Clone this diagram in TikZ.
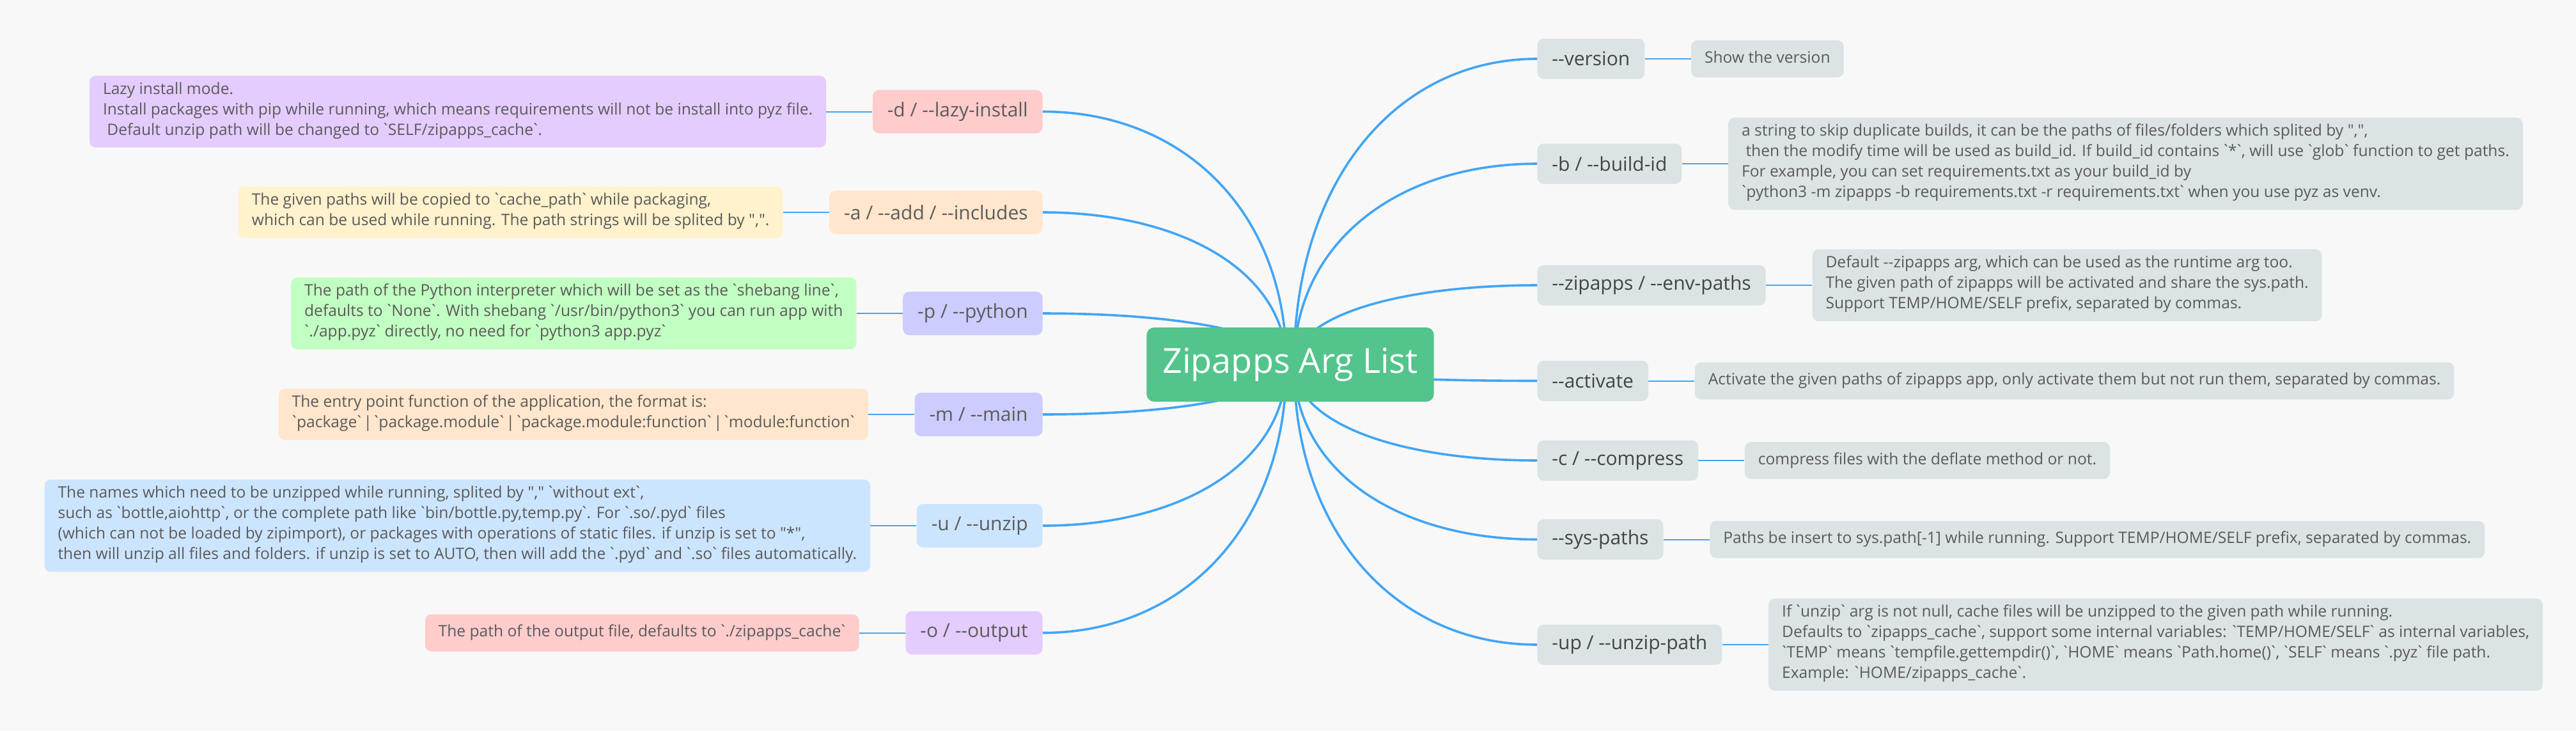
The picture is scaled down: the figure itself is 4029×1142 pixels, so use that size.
\documentclass[tikz,border=0pt]{standalone}
\usepackage{fontspec}
\usepackage{tikz}
\usetikzlibrary{positioning,calc}
\newfontfamily\mapfont{Open Sans}
% narrower backtick and bar, as in the screenshot font
\newcommand{\gravetick}{\kern-0.14em`\kern-0.14em}
\newcommand{\barsep}{\kern-0.14em|\kern-0.14em}

\definecolor{bgmap}{HTML}{F8F8F8}
\definecolor{rootgreen}{HTML}{52C48C}
\definecolor{linkblue}{HTML}{42A5F5}
\definecolor{argtext}{HTML}{5C5C5C}
\definecolor{argdark}{HTML}{3F4548}
\definecolor{notetext}{HTML}{5A5A5A}
\definecolor{notegray}{HTML}{DCE3E5}
\definecolor{pinkbox}{HTML}{FFCCCC}
\definecolor{lilacbox}{HTML}{E5CCFF}
\definecolor{peachbox}{HTML}{FFE6CC}
\definecolor{creambox}{HTML}{FFF2CC}
\definecolor{mintbox}{HTML}{C2FFC2}
\definecolor{periwinkle}{HTML}{CCCCFF}
\definecolor{skybox}{HTML}{CCE5FF}

\tikzset{
	rootbox/.style={fill=rootgreen, text=white, rounded corners=6pt, inner xsep=12.5pt, minimum height=58pt, font=\mapfont\fontsize{27}{32}\selectfont},
	leftarg/.style={anchor=east, rounded corners=5pt, inner xsep=11.5pt, minimum height=34pt, text=argtext, font=\mapfont\fontsize{15}{18}\selectfont},
	rightarg/.style={anchor=west, fill=notegray, rounded corners=5pt, inner xsep=11.5pt, minimum height=31.5pt, text=argdark, font=\mapfont\fontsize{15}{18}\selectfont},
	note/.style={rounded corners=5pt, align=left, inner xsep=10.5pt, inner ysep=5pt, minimum height=29pt, text=notetext, font=\mapfont\fontsize{12.3}{16}\selectfont, execute at begin node=\strut, execute at end node=\strut},
	branch/.style={draw=linkblue, line width=1.8pt, to path={.. controls ($(\tikztostart)!0.6!(\tikztostart |- \tikztotarget)$) and ($(\tikztostart |- \tikztotarget)!0.42!(\tikztotarget)$) .. (\tikztotarget)}},
	twig/.style={draw=linkblue, line width=1pt}
}

\begin{document}
\begin{tikzpicture}[x=0.5pt,y=0.5pt,yscale=-1]
	%background, same size as the screenshot
	\fill [bgmap] (0,0) rectangle (4029,1142);
	\useasboundingbox (0,0) rectangle (4029,1142);
	
	% Text Node: left arguments
	\node [leftarg, fill=pinkbox] (lazy) at (1631,174.5) {-d / --lazy-install};
	\node [leftarg, fill=peachbox] (add) at (1631,332) {-a / --add / --includes};
	\node [leftarg, fill=periwinkle] (python) at (1631,490) {-p / --python};
	\node [leftarg, fill=periwinkle] (main) at (1631,648) {-m / --main};
	\node [leftarg, fill=skybox] (unzip) at (1631,822) {-u / --unzip};
	\node [leftarg, fill=lilacbox] (output) at (1631,989.5) {-o / --output};
	
	% Text Node: right arguments
	\node [rightarg] (version) at (2404,92) {--version};
	\node [rightarg] (buildid) at (2404,256) {-b / --build-id};
	\node [rightarg] (envpaths) at (2404,446) {--zipapps / --env-paths};
	\node [rightarg] (activate) at (2404,595.5) {--activate};
	\node [rightarg] (compress) at (2404,720) {-c / --compress};
	\node [rightarg] (syspaths) at (2404,843.5) {--sys-paths};
	\node [rightarg] (unzippath) at (2404,1008) {-up / --unzip-path};
	
	% Text Node: notes on the left
	\node [note, fill=lilacbox, left=36pt of lazy] (lazynote) {Lazy install mode.\\Install packages with pip while running, which means requirements will not be install into pyz file.\\\ Default unzip path will be changed to \gravetick SELF/zipapps\_cache\gravetick.};
	\node [note, fill=creambox, left=36pt of add] (addnote) {The given paths will be copied to \gravetick cache\_path\gravetick\ while packaging,\\which can be used while running. The path strings will be splited by ",".};
	\node [note, fill=mintbox, left=36pt of python] (pythonnote) {The path of the Python interpreter which will be set as the \gravetick shebang line\gravetick,\\defaults to \gravetick None\gravetick. With shebang \gravetick/usr/bin/python3\gravetick\ you can run app with\\\gravetick./app.pyz\gravetick\ directly, no need for \gravetick python3 app.pyz\gravetick};
	\node [note, fill=peachbox, left=36pt of main] (mainnote) {The entry point function of the application, the format is:\\\gravetick package\gravetick\ \barsep\ \gravetick package.module\gravetick\ \barsep\ \gravetick package.module:function\gravetick\ \barsep\ \gravetick module:function\gravetick};
	\node [note, fill=skybox, left=36pt of unzip] (unzipnote) {The names which need to be unzipped while running, splited by "," \gravetick without ext\gravetick,\\such as \gravetick bottle,aiohttp\gravetick, or the complete path like \gravetick bin/bottle.py,temp.py\gravetick. For \gravetick.so/.pyd\gravetick\ files\\(which can not be loaded by zipimport), or packages with operations of static files. if unzip is set to "*",\\then will unzip all files and folders. if unzip is set to AUTO, then will add the \gravetick.pyd\gravetick\ and \gravetick.so\gravetick\ files automatically.};
	\node [note, fill=pinkbox, left=36pt of output] (outputnote) {The path of the output file, defaults to \gravetick./zipapps\_cache\gravetick};
	
	% Text Node: notes on the right
	\node [note, fill=notegray, right=36pt of version] (versionnote) {Show the version};
	\node [note, fill=notegray, right=36pt of buildid] (buildidnote) {a string to skip duplicate builds, it can be the paths of files/folders which splited by ",",\\\ then the modify time will be used as build\_id. If build\_id contains \gravetick*\gravetick, will use \gravetick glob\gravetick\ function to get paths.\\For example, you can set requirements.txt as your build\_id by\\\gravetick python3 -m zipapps -b requirements.txt -r requirements.txt\gravetick\ when you use pyz as venv.};
	\node [note, fill=notegray, right=36pt of envpaths] (envpathsnote) {Default --zipapps arg, which can be used as the runtime arg too.\\The given path of zipapps will be activated and share the sys.path.\\Support TEMP/HOME/SELF prefix, separated by commas.};
	\node [note, fill=notegray, right=36pt of activate] (activatenote) {Activate the given paths of zipapps app, only activate them but not run them, separated by commas.};
	\node [note, fill=notegray, right=36pt of compress] (compressnote) {compress files with the deflate method or not.};
	\node [note, fill=notegray, right=36pt of syspaths] (syspathsnote) {Paths be insert to sys.path[-1] while running. Support TEMP/HOME/SELF prefix, separated by commas.};
	\node [note, fill=notegray, right=36pt of unzippath] (unzippathnote) {If \gravetick unzip\gravetick\ arg is not null, cache files will be unzipped to the given path while running.\\Defaults to \gravetick zipapps\_cache\gravetick, support some internal variables: \gravetick TEMP/HOME/SELF\gravetick\ as internal variables,\\\gravetick TEMP\gravetick\ means \gravetick tempfile.gettempdir()\gravetick, \gravetick HOME\gravetick\ means \gravetick Path.home()\gravetick, \gravetick SELF\gravetick\ means \gravetick.pyz\gravetick\ file path.\\Example: \gravetick HOME/zipapps\_cache\gravetick.};
	
	%Straight Lines: argument to note
	\draw [twig] (lazy.west) -- (lazynote.east);
	\draw [twig] (add.west) -- (addnote.east);
	\draw [twig] (python.west) -- (pythonnote.east);
	\draw [twig] (main.west) -- (mainnote.east);
	\draw [twig] (unzip.west) -- (unzipnote.east);
	\draw [twig] (output.west) -- (outputnote.east);
	\draw [twig] (version.east) -- (versionnote.west);
	\draw [twig] (buildid.east) -- (buildidnote.west);
	\draw [twig] (envpaths.east) -- (envpathsnote.west);
	\draw [twig] (activate.east) -- (activatenote.west);
	\draw [twig] (compress.east) -- (compressnote.west);
	\draw [twig] (syspaths.east) -- (syspathsnote.west);
	\draw [twig] (unzippath.east) -- (unzippathnote.west);
	
	%Curves: root to arguments, they start under the root box
	\coordinate (rootL) at (2012,570);
	\coordinate (rootR) at (2024,570);
	\draw [branch] (rootL) to (lazy.east);
	\draw [branch] (rootL) to (add.east);
	\draw [branch] (rootL) to (python.east);
	\draw [branch] (rootL) to (main.east);
	\draw [branch] (rootL) to (unzip.east);
	\draw [branch] (rootL) to (output.east);
	\draw [branch] (rootR) to (version.west);
	\draw [branch] (rootR) to (buildid.west);
	\draw [branch] (rootR) to (envpaths.west);
	\draw [branch] (rootR) to (activate.west);
	\draw [branch] (rootR) to (compress.west);
	\draw [branch] (rootR) to (syspaths.west);
	\draw [branch] (rootR) to (unzippath.west);
	
	% Text Node: root
	\node [rootbox] (root) at (2018,570) {Zipapps Arg List};
	
\end{tikzpicture}
\end{document}
